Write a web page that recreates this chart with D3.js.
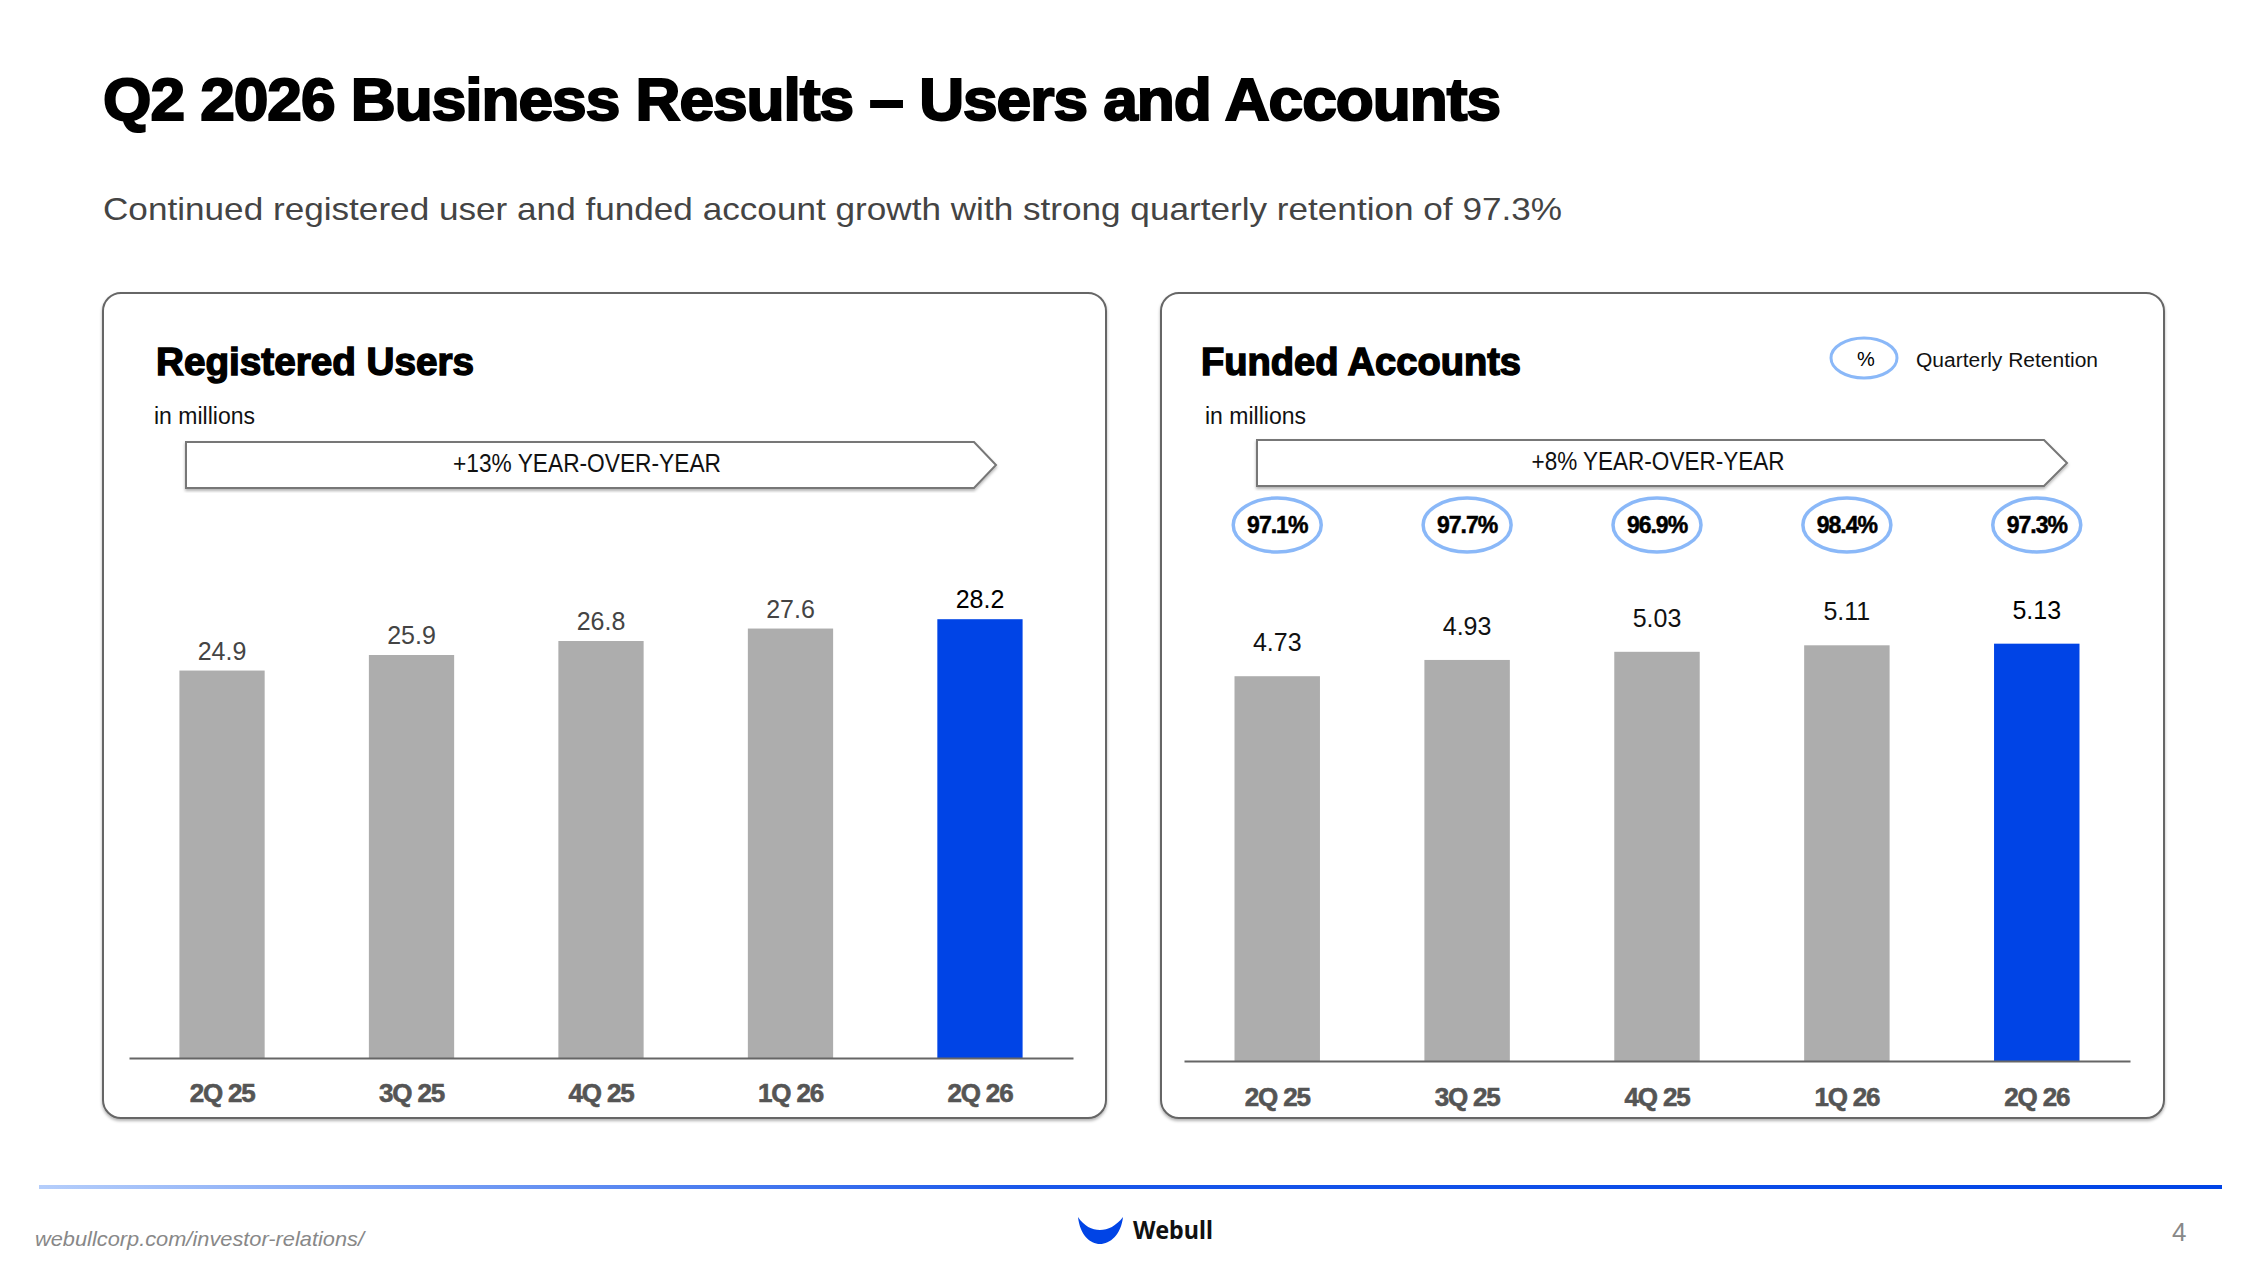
<!DOCTYPE html>
<html>
<head>
<meta charset="utf-8">
<script src="https://cdn.jsdelivr.net/npm/d3@7"></script>
<style>
  body { margin: 0; background: #fff; }
  svg { display: block; font-family: "Liberation Sans", Arial, sans-serif; }
</style>
</head>
<body>
<div id="chart"></div>
<script>
// Chart data
const quarters = ["2Q 25", "3Q 25", "4Q 25", "1Q 26", "2Q 26"];
const registeredUsers = [24.9, 25.9, 26.8, 27.6, 28.2];
const fundedAccounts = [4.73, 4.93, 5.03, 5.11, 5.13];
const quarterlyRetention = [97.1, 97.7, 96.9, 98.4, 97.3];
const yoyLabels = ["+13% YEAR-OVER-YEAR", "+8% YEAR-OVER-YEAR"];
const panelTitles = ["Registered Users", "Funded Accounts"];

const width = 2267;
const height = 1275;
const grey = "#adadad";
const blue = "#0044e6";

const svg = d3.select("#chart")
    .append("svg")
    .attr("width", width)
    .attr("height", height);

const defs = svg.append("defs");

// Soft shadow under panels and banners
const shadow = defs.append("filter")
    .attr("id", "shadow")
    .attr("x", "-5%").attr("y", "-5%")
    .attr("width", "110%").attr("height", "115%");
shadow.append("feDropShadow")
    .attr("dx", 0).attr("dy", 2)
    .attr("stdDeviation", 1.5)
    .attr("flood-color", "#000")
    .attr("flood-opacity", 0.3);

// Footer line gradient
const grad = defs.append("linearGradient")
    .attr("id", "footerGrad")
    .attr("gradientUnits", "userSpaceOnUse")
    .attr("x1", 39).attr("x2", 2222)
    .attr("y1", 0).attr("y2", 0);
grad.append("stop").attr("offset", "0%").attr("stop-color", "#b5cefb");
grad.append("stop").attr("offset", "45%").attr("stop-color", "#1a57ea");
grad.append("stop").attr("offset", "100%").attr("stop-color", blue);

// Page title and subtitle
svg.append("text")
    .attr("x", 103)
    .attr("y", 120)
    .attr("textLength", 1397)
    .attr("lengthAdjust", "spacingAndGlyphs")
    .style("font-size", "60px")
    .style("font-weight", 700)
    .style("letter-spacing", "-1px")
    .style("stroke", "#000")
    .style("stroke-width", 2)
    .style("fill", "#000")
    .text("Q2 2026 Business Results \u2013 Users and Accounts");

svg.append("text")
    .attr("x", 103)
    .attr("y", 220)
    .attr("textLength", 1459)
    .attr("lengthAdjust", "spacingAndGlyphs")
    .style("font-size", "32px")
    .style("fill", "#444")
    .text("Continued registered user and funded account growth with strong quarterly retention of 97.3%");

function drawPanel(opts) {
    const g = svg.append("g");

    // Rounded frame
    g.append("rect")
        .attr("x", opts.left)
        .attr("y", 293)
        .attr("width", opts.right - opts.left)
        .attr("height", 1118 - 293)
        .attr("rx", 18)
        .attr("fill", "#fff")
        .attr("stroke", "#666")
        .attr("stroke-width", 2)
        .attr("filter", "url(#shadow)");

    // Panel title
    g.append("text")
        .attr("x", opts.titleX)
        .attr("y", 375)
        .attr("textLength", opts.titleLen)
        .attr("lengthAdjust", "spacingAndGlyphs")
        .style("font-size", "38px")
        .style("font-weight", 700)
        .style("stroke", "#000")
        .style("stroke-width", 1.4)
        .text(opts.title);

    g.append("text")
        .attr("x", opts.unitX)
        .attr("y", 424)
        .style("font-size", "23px")
        .style("fill", "#111")
        .text("in millions");

    // Year-over-year banner arrow
    const b = opts.banner;
    const ymid = (b.top + b.bottom) / 2;
    g.append("path")
        .attr("d", `M${b.x0},${b.top}L${b.x1},${b.top}L${b.tip},${ymid}L${b.x1},${b.bottom}L${b.x0},${b.bottom}Z`)
        .attr("fill", "#fff")
        .attr("stroke", "#777")
        .attr("stroke-width", 2)
        .attr("filter", "url(#shadow)");

    g.append("text")
        .attr("x", b.textX)
        .attr("y", b.top + 30)
        .attr("text-anchor", "middle")
        .attr("textLength", b.textLen)
        .attr("lengthAdjust", "spacingAndGlyphs")
        .style("font-size", "26px")
        .style("fill", "#111")
        .text(opts.yoy);

    // Scales
    const x = d3.scaleBand()
        .domain(quarters)
        .range(opts.axisRange)
        .paddingInner(0.55)
        .paddingOuter(0.266);

    const y = d3.scaleLinear()
        .domain([0, opts.yMax])
        .range([opts.baseY, opts.baseY - opts.yMax * opts.pxPerUnit]);

    const data = quarters.map((q, i) => ({ q: q, v: opts.values[i], last: i === quarters.length - 1 }));

    // Bars
    g.append("g")
        .selectAll("rect")
        .data(data)
        .enter()
        .append("rect")
        .attr("x", d => x(d.q))
        .attr("y", d => y(d.v))
        .attr("width", x.bandwidth())
        .attr("height", d => y(0) - y(d.v))
        .attr("fill", d => d.last ? blue : grey);

    // Value labels
    g.append("g")
        .selectAll("text")
        .data(data)
        .enter()
        .append("text")
        .attr("x", d => x(d.q) + x.bandwidth() / 2)
        .attr("y", d => y(d.v) - opts.labelGap)
        .attr("text-anchor", "middle")
        .style("font-size", "25px")
        .style("fill", d => d.last ? "#000" : opts.labelColor)
        .text(d => opts.format(d.v));

    // Category axis
    const axis = g.append("g")
        .attr("transform", `translate(0,${opts.baseY})`)
        .call(d3.axisBottom(x).tickSize(0).tickSizeOuter(0));

    axis.select(".domain")
        .attr("stroke", "#666")
        .attr("stroke-width", 2);

    axis.selectAll("text")
        .attr("dy", null)
        .attr("y", opts.catOffset)
        .style("font-family", "'Liberation Sans', Arial, sans-serif")
        .style("font-size", "26px")
        .style("font-weight", 700)
        .style("letter-spacing", "-1.2px")
        .style("stroke", "#555")
        .style("stroke-width", 0.6)
        .style("fill", "#555");

    return { g: g, x: x };
}

// Left panel: registered users
drawPanel({
    left: 103, right: 1106,
    title: panelTitles[0], titleX: 156, titleLen: 318, unitX: 154,
    yoy: yoyLabels[0],
    banner: { x0: 186, x1: 974, tip: 996, top: 442, bottom: 488, textX: 587, textLen: 268 },
    axisRange: [129, 1073],
    baseY: 1058, yMax: 30, pxPerUnit: 15.56,
    values: registeredUsers,
    labelGap: 11, labelColor: "#444",
    format: d3.format(".1f"),
    catOffset: 44
});

// Right panel: funded accounts
const right = drawPanel({
    left: 1161, right: 2164,
    title: panelTitles[1], titleX: 1201, titleLen: 320, unitX: 1205,
    yoy: yoyLabels[1],
    banner: { x0: 1257, x1: 2044, tip: 2067, top: 440, bottom: 486, textX: 1658, textLen: 253 },
    axisRange: [1184, 2130],
    baseY: 1061, yMax: 6, pxPerUnit: 81.35,
    values: fundedAccounts,
    labelGap: 25, labelColor: "#111",
    format: d3.format(".2f"),
    catOffset: 45
});

// Quarterly retention bubbles
const bubbles = right.g.append("g")
    .selectAll("g")
    .data(quarters.map((q, i) => ({ q: q, r: quarterlyRetention[i] })))
    .enter()
    .append("g")
    .attr("transform", d => `translate(${right.x(d.q) + right.x.bandwidth() / 2},525)`);

bubbles.append("ellipse")
    .attr("rx", 44)
    .attr("ry", 27)
    .attr("fill", "#fff")
    .attr("stroke", "#8ab8f8")
    .attr("stroke-width", 3.5);

bubbles.append("text")
    .attr("y", 8)
    .attr("text-anchor", "middle")
    .style("font-size", "23px")
    .style("font-weight", 700)
    .style("letter-spacing", "-1px")
    .style("stroke", "#000")
    .style("stroke-width", 0.5)
    .text(d => d3.format(".1f")(d.r) + "%");

// Legend
right.g.append("ellipse")
    .attr("cx", 1864)
    .attr("cy", 358)
    .attr("rx", 33)
    .attr("ry", 20)
    .attr("fill", "#fff")
    .attr("stroke", "#8ab8f8")
    .attr("stroke-width", 3);

right.g.append("text")
    .attr("x", 1866)
    .attr("y", 366)
    .attr("text-anchor", "middle")
    .style("font-size", "20px")
    .text("%");

right.g.append("text")
    .attr("x", 1916)
    .attr("y", 367)
    .attr("textLength", 182)
    .attr("lengthAdjust", "spacingAndGlyphs")
    .style("font-size", "20px")
    .style("fill", "#111")
    .text("Quarterly  Retention");

// Footer
svg.append("rect")
    .attr("x", 39)
    .attr("y", 1185)
    .attr("width", 2183)
    .attr("height", 4)
    .attr("fill", "url(#footerGrad)");

svg.append("text")
    .attr("x", 35)
    .attr("y", 1246)
    .attr("textLength", 329)
    .attr("lengthAdjust", "spacingAndGlyphs")
    .style("font-size", "21px")
    .style("font-style", "italic")
    .style("fill", "#888")
    .text("webullcorp.com/investor-relations/");

// Webull logo mark
svg.append("path")
    .attr("d", "M1078,1217C1080,1235 1090,1244 1100,1244C1110,1244 1121,1235 1123,1217C1116,1226 1108,1230 1100,1230C1092,1230 1084,1226 1078,1217Z")
    .attr("fill", blue);

svg.append("text")
    .attr("x", 1133)
    .attr("y", 1239)
    .attr("textLength", 80)
    .attr("lengthAdjust", "spacingAndGlyphs")
    .style("font-family", "'Noto Sans', sans-serif")
    .style("font-size", "25px")
    .style("font-weight", 700)
    .style("fill", "#111")
    .text("Webull");

svg.append("text")
    .attr("x", 2172)
    .attr("y", 1241)
    .style("font-size", "26px")
    .style("fill", "#888")
    .text("4");
</script>
</body>
</html>
